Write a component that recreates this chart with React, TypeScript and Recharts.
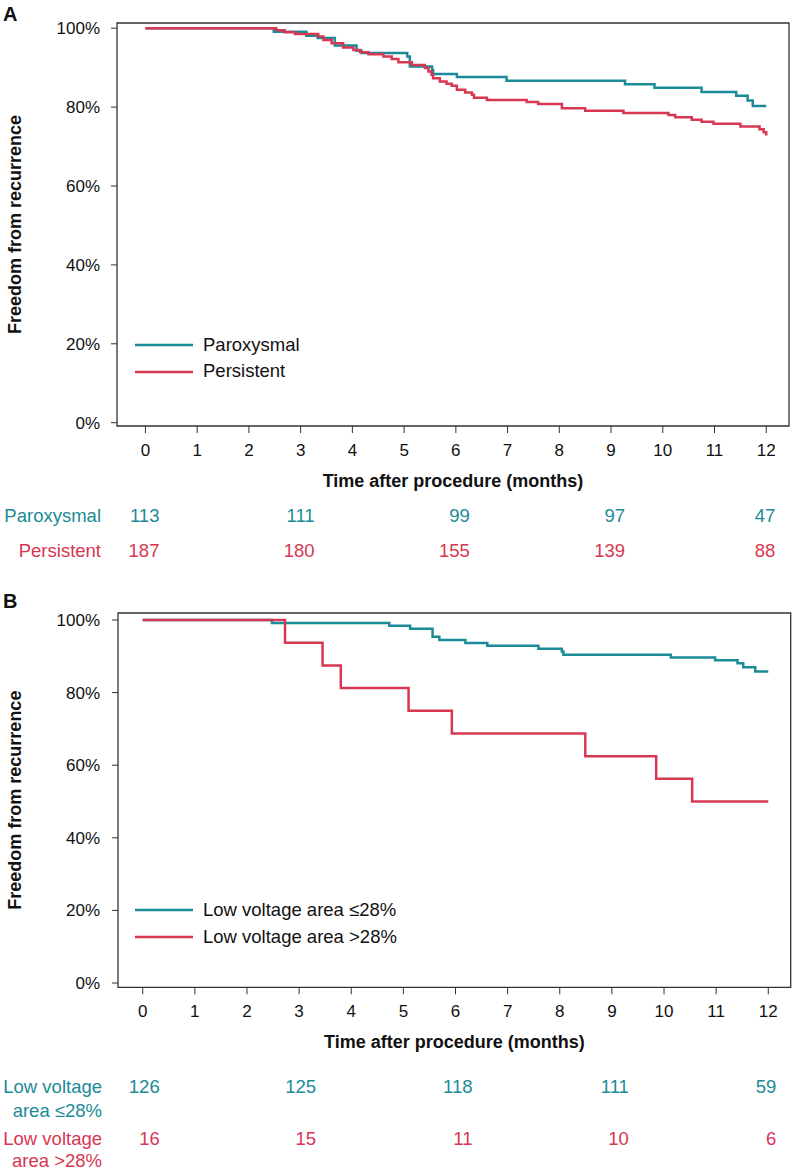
import React from 'react';
import { LineChart, Line, XAxis, YAxis, ReferenceArea, Legend } from 'recharts';

const FONT = '"Liberation Sans", Arial, Helvetica, sans-serif';
const TEAL = '#1b8b97';
const RED = '#d73752';
const INK = '#111111';
const FRAME = '#333333';

// ---------- Panel A data ----------
const A_PAROX_T = [0, 2.48, 3.11, 3.33, 3.66, 4.08, 4.18, 5.06, 5.11, 5.54, 5.56, 6.02, 6.98, 9.27, 9.84, 10.75, 11.42, 11.64, 11.74, 12.0];
const A_PAROX_S = [100, 99.1, 98.1, 97.5, 95.6, 94.3, 93.7, 92.8, 90.3, 89.4, 88.4, 87.6, 86.7, 85.8, 84.9, 83.8, 82.9, 81.7, 80.3, 80.3];
const A_PERS_T = [0, 2.53, 2.69, 2.89, 3.34, 3.44, 3.6, 3.82, 4.02, 4.15, 4.31, 4.6, 4.76, 4.89, 5.15, 5.4, 5.47, 5.53, 5.56, 5.69, 5.82, 5.92, 6.02, 6.18, 6.31, 6.35, 6.6, 7.37, 7.59, 8.05, 8.5, 9.24, 10.11, 10.24, 10.56, 10.75, 10.98, 11.5, 11.87, 11.95, 12.0];
const A_PERS_S = [100, 99.5, 99.0, 98.5, 97.9, 97.0, 96.2, 95.1, 94.5, 93.9, 93.4, 92.8, 92.2, 91.4, 90.7, 89.9, 89.0, 88.2, 87.3, 86.5, 85.9, 85.4, 84.4, 83.7, 83.1, 82.4, 81.8, 81.3, 80.8, 79.7, 79.1, 78.5, 78.0, 77.4, 76.8, 76.3, 75.8, 75.1, 74.4, 73.6, 72.8];
const A_RISK_PAROX = [113, 111, 99, 97, 47];
const A_RISK_PERS = [187, 180, 155, 139, 88];

// ---------- Panel B data ----------
const B_LOW_T = [0, 2.48, 4.73, 5.13, 5.56, 5.69, 6.19, 6.61, 7.59, 8.04, 8.07, 10.13, 10.98, 11.41, 11.52, 11.75, 12.0];
const B_LOW_S = [100, 99.2, 98.4, 97.6, 95.4, 94.5, 93.7, 92.9, 92.1, 91.3, 90.4, 89.7, 88.9, 88.1, 87.0, 85.8, 85.8];
const B_HIGH_T = [0, 2.73, 3.45, 3.8, 5.1, 5.93, 8.49, 9.85, 10.54, 12.0];
const B_HIGH_S = [100, 93.75, 87.5, 81.25, 75, 68.75, 62.5, 56.25, 50, 50];
const B_RISK_LOW = [126, 125, 118, 111, 59];
const B_RISK_HIGH = [16, 15, 11, 10, 6];

// ---------- Axes ----------
const X_TICKS = [0, 1, 2, 3, 4, 5, 6, 7, 8, 9, 10, 11, 12];
const Y_TICKS = [0, 20, 40, 60, 80, 100];
const RISK_TICKS = [0, 3, 6, 9, 12];
const X_TITLE = 'Time after procedure (months)';
const Y_TITLE = 'Freedom from recurrence';

const toSeries = (t: number[], s: number[]) => t.map((v, i) => ({ t: v, s: s[i] }));

type Row = { lines: string[]; counts: number[]; color: string; height: number; baselines: number[] };
type Series = { name: string; color: string; t: number[]; s: number[] };
type Cfg = {
  letter: string; letterDy: number; height: number; top: number; bottom: number; right: number; yWidth: number; yTickMargin: number;
  xDomain: [number, number]; yDomain: [number, number];
  series: Series[];
  rows: Row[]; legendTop: number; riskOffset: number; riskLastOffset: number;
};

const LegendBox = ({ series }: { series: Series[] }) => (
  <div style={{ fontFamily: FONT, fontSize: 18.5, color: INK }}>
    {series.map((p) => (
      <div key={p.name} style={{ display: 'flex', alignItems: 'center', height: 26.7 }}>
        <svg width={58} height={4} style={{ marginRight: 10, display: 'block' }}>
          <line x1={0} y1={2} x2={58} y2={2} stroke={p.color} strokeWidth={2.5} />
        </svg>
        <span style={{ lineHeight: '1', whiteSpace: 'nowrap' }}>{p.name}</span>
      </div>
    ))}
  </div>
);

function Panel({ cfg }: { cfg: Cfg }) {
  const [x0, x1] = cfg.xDomain;
  const [y0, y1] = cfg.yDomain;
  const riskData = RISK_TICKS.map((t, i) => {
    const o: any = { t };
    cfg.rows.forEach((r, ri) => { o[`n${ri}`] = r.counts[i]; });
    return o;
  });
  return (
    <LineChart width={795} height={cfg.height} data={riskData} margin={{ top: cfg.top, right: cfg.right, left: 0, bottom: cfg.bottom }}>
      <XAxis
        xAxisId="x0" type="number" dataKey="t" domain={cfg.xDomain} ticks={X_TICKS} interval={0} allowDataOverflow
        axisLine={false} tickLine={{ stroke: FRAME }} tickSize={7} tickMargin={11} height={70}
        tick={{ fill: INK, fontSize: 17, fontFamily: FONT }}
        label={(p: any) => {
          const vb = p.viewBox || {};
          return (
            <text x={vb.x + vb.width / 2} y={vb.y + 60.5} textAnchor="middle" fontFamily={FONT} fontWeight="bold" fontSize={18} fill={INK}>
              {X_TITLE}
            </text>
          );
        }}
      />
      {cfg.rows.map((row, ri) => (
        <XAxis
          key={ri} xAxisId={`x${ri + 1}`} type="number" dataKey="t" domain={cfg.xDomain} ticks={RISK_TICKS} interval={0} allowDataOverflow
          axisLine={false} tickLine={false} tickSize={0} tickMargin={0} height={row.height}
          tick={(tp: any) => {
            const idx = RISK_TICKS.indexOf(tp.payload.value);
            const off = tp.payload.value === 12 ? cfg.riskLastOffset : cfg.riskOffset;
            return (
              <text x={tp.x + off} y={tp.y + row.baselines[0]} textAnchor="end" fontFamily={FONT} fontSize={18.5} fill={row.color}>
                {row.counts[idx]}
              </text>
            );
          }}
          label={(p: any) => {
            const vb = p.viewBox || {};
            return (
              <g>
                {row.lines.map((ln, li) => (
                  <text key={li} x={vb.x - 16} y={vb.y + row.baselines[li]} textAnchor="end" fontFamily={FONT} fontSize={18.5} fill={row.color}>
                    {ln}
                  </text>
                ))}
              </g>
            );
          }}
        />
      ))}
      <YAxis
        yAxisId="y" type="number" domain={cfg.yDomain} ticks={Y_TICKS} interval={0} allowDataOverflow width={cfg.yWidth}
        axisLine={false} tickLine={{ stroke: FRAME }} tickSize={6} tickMargin={cfg.yTickMargin}
        tickFormatter={(v: number) => `${v}%`}
        tick={{ fill: INK, fontSize: 17, fontFamily: FONT }}
        label={(p: any) => {
          const vb = p.viewBox || {};
          const cx = 15;
          const cy = vb.y + vb.height / 2;
          return (
            <g>
              <text x={3} y={vb.y + cfg.letterDy} fontFamily={FONT} fontWeight="bold" fontSize={20} fill={INK}>{cfg.letter}</text>
              <text x={cx} y={cy} transform={`rotate(-90, ${cx}, ${cy})`} textAnchor="middle" dominantBaseline="central"
                fontFamily={FONT} fontWeight="bold" fontSize={18} fill={INK}>
                {Y_TITLE}
              </text>
            </g>
          );
        }}
      />
      <ReferenceArea xAxisId="x0" yAxisId="y" x1={x0} x2={x1} y1={y0} y2={y1} fill="none" fillOpacity={0} stroke={FRAME} strokeWidth={1.3} />
      {cfg.series.map((s) => (
        <Line
          key={s.name} xAxisId="x0" yAxisId="y" type="stepAfter" data={toSeries(s.t, s.s)} dataKey="s" name={s.name}
          stroke={s.color} strokeWidth={2.5} dot={false} activeDot={false} isAnimationActive={false}
        />
      ))}
      <Legend
        layout="vertical" align="center" verticalAlign="middle" content={() => <LegendBox series={cfg.series} />}
        wrapperStyle={{ left: 135, top: cfg.legendTop, width: 'auto', height: 'auto' }}
      />
    </LineChart>
  );
}

const CFG_A: Cfg = {
  letter: 'A', letterDy: -2, height: 585, top: 23, bottom: 19, right: 6, yWidth: 117, yTickMargin: 11,
  xDomain: [-0.55, 12.44], yDomain: [-0.84, 101.32],
  series: [
    { name: 'Paroxysmal', color: TEAL, t: A_PAROX_T, s: A_PAROX_S },
    { name: 'Persistent', color: RED, t: A_PERS_T, s: A_PERS_S },
  ],
  rows: [
    { lines: ['Paroxysmal'], counts: A_RISK_PAROX, color: TEAL, height: 35, baselines: [25.8] },
    { lines: ['Persistent'], counts: A_RISK_PERS, color: RED, height: 35, baselines: [25.8] },
  ],
  legendTop: 331.6, riskOffset: 14, riskLastOffset: 9,
};

const CFG_B: Cfg = {
  letter: 'B', letterDy: -4.8, height: 591, top: 28, bottom: 6.7, right: 4.3, yWidth: 118, yTickMargin: 12,
  xDomain: [-0.474, 12.43], yDomain: [-1.18, 101.93],
  series: [
    { name: 'Low voltage area ≤28%', color: TEAL, t: B_LOW_T, s: B_LOW_S },
    { name: 'Low voltage area >28%', color: RED, t: B_HIGH_T, s: B_HIGH_S },
  ],
  rows: [
    { lines: ['Low voltage', 'area ≤28%'], counts: B_RISK_LOW, color: TEAL, height: 52, baselines: [36, 59.3] },
    { lines: ['Low voltage', 'area >28%'], counts: B_RISK_HIGH, color: RED, height: 60, baselines: [35.6, 57.3] },
  ],
  legendTop: 312, riskOffset: 17, riskLastOffset: 8,
};

export default function App() {
  return (
    <div style={{ width: 795, background: '#fff' }}>
      <style>{'body{margin:0;background:#fff}'}</style>
      <Panel cfg={CFG_A} />
      <Panel cfg={CFG_B} />
    </div>
  );
}
